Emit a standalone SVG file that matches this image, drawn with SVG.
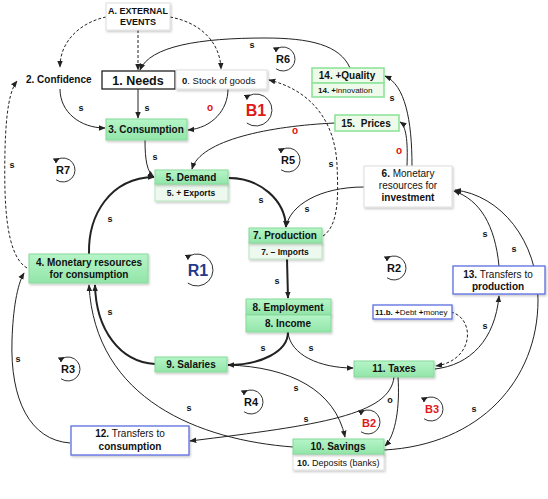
<svg xmlns="http://www.w3.org/2000/svg" width="548" height="499" viewBox="0 0 548 499">
<defs>
<linearGradient id="gg" x1="0" y1="0" x2="0" y2="1">
<stop offset="0" stop-color="#b6f5c8"/>
<stop offset="1" stop-color="#92e5a9"/>
</linearGradient>
<filter id="sh" x="-10%" y="-20%" width="130%" height="160%">
<feDropShadow dx="1" dy="1.5" stdDeviation="0.8" flood-color="#000" flood-opacity="0.22"/>
</filter>
<marker id="ah" viewBox="0 0 10 10" refX="9" refY="5" markerWidth="7" markerHeight="7" markerUnits="userSpaceOnUse" orient="auto">
<path d="M0,1 L10,5 L0,9 z" fill="#222"/>
</marker>
<marker id="la" viewBox="0 0 10 10" refX="5" refY="5" markerWidth="6" markerHeight="6" markerUnits="userSpaceOnUse" orient="auto">
<path d="M0,0 L10,5 L0,10 z" fill="#222"/>
</marker>
<style>
text { font-family: "Liberation Sans", Arial, sans-serif; fill: #111; }
.bd { font-weight: bold; }
.nt { font-size: 10px; font-weight: bold; text-anchor: middle; }
.sm { font-size: 8.5px; font-weight: bold; text-anchor: middle; }
.g { fill: url(#gg); stroke: #86d99a; stroke-width: 1; filter: url(#sh); }
.pl { fill: #eefaea; stroke: #8fe49c; stroke-width: 1.6; }
.ps { fill: #edf8ee; stroke: #b8e6c0; stroke-width: 1; filter: url(#sh); }
.w { fill: #fff; stroke: #dedede; stroke-width: 1; filter: url(#sh); }
.bl { fill: #fff; stroke: #5b6ee0; stroke-width: 1.3; filter: url(#sh); }
.k { fill: #fff; stroke: #222; stroke-width: 1.3; }
.c { fill: none; stroke: #222; stroke-width: 1; marker-end: url(#ah); }
.t { stroke-width: 2; }
.d { stroke-dasharray: 3 2; }
.lp { fill: none; stroke: #333; stroke-width: 1; marker-start: url(#la); }
.lb { font-size: 11px; font-weight: bold; text-anchor: middle; }
.s { font-size: 9px; font-weight: bold; text-anchor: middle; }
.o { font-size: 10px; font-weight: bold; text-anchor: middle; fill: #e01010; }
</style>
</defs>
<rect width="548" height="499" fill="#fff"/>

<g id="connectors">
<path class="c d" d="M106,17 C82,22 60,40 60,67"/>
<path class="c d" d="M138,30 L138,70"/>
<path class="c d" d="M170,17 C198,22 220,40 221,69"/>
<path class="c" d="M60,89 C60,112 80,128 105,128"/>
<path class="c" d="M138,89 L138,118"/>
<path class="c" d="M228,89 C228,110 212,128 188,130"/>
<path class="c" d="M350,68 C340,45 310,38 265,38 C200,38 150,46 140,70"/>
<path class="c d" d="M323,236 C340,225 338,190 337,165 C335,120 310,90 269,80"/>
<path class="c" d="M335,123 C270,126 200,140 192,169"/>
<path class="c" d="M145,140 C145,160 147,172 154,177"/>
<path class="c t" d="M229,178 C260,178 285,200 286,227"/>
<path class="c" d="M364,187 C320,187 290,205 286,227"/>
<path class="c" d="M412,166 C412,120 405,85 385,76"/>
<path class="c" d="M407,166 C408,140 406,126 400,122"/>
<path class="c t" d="M287,259 L288,298"/>
<path class="c t" d="M288,332 C288,352 260,365 228,365"/>
<path class="c" d="M288,332 C290,355 320,368 353,368"/>
<path class="c t" d="M155,364 C120,362 96,330 95,285"/>
<path class="c t" d="M89,254 C88,215 110,178 154,177"/>
<path class="c" d="M293,447 C200,440 95,400 89,285"/>
<path class="c" d="M228,365 C290,367 335,390 345,437"/>
<path class="c" d="M394,377 C390,415 320,425 190,441"/>
<path class="c" d="M398,377 C400,405 396,435 385,446"/>
<path class="c" d="M435,369 C470,365 495,340 499,296"/>
<path class="c d" d="M451,312 C475,318 475,360 436,366"/>
<path class="c" d="M499,266 C495,225 480,200 454,191"/>
<path class="c" d="M384,450 C480,445 538,380 538,300 C538,240 500,195 455,190"/>
<path class="c d" d="M27,268 C5,255 4,200 5,150 C6,110 10,90 17,81"/>
<path class="c" d="M70,443 C30,440 10,400 12,340 C13,310 17,285 24,273"/>

<text class="s" x="81" y="111">s</text>
<text class="s" x="147" y="111">s</text>
<text class="o" x="210" y="111">o</text>
<text class="s" x="252" y="48">s</text>
<text class="o" x="295" y="134">o</text>
<text class="s" x="155" y="160">s</text>
<text class="s" x="12" y="168">s</text>
<text class="s" x="331" y="167">s</text>
<text class="s" x="392" y="101">s</text>
<text class="o" x="399" y="154">o</text>
<text class="s" x="261" y="203">s</text>
<text class="s" x="307" y="212">s</text>
<text class="s" x="110" y="222">s</text>
<text class="s" x="485" y="237">s</text>
<text class="s" x="514" y="252">s</text>
<text class="s" x="277" y="284">s</text>
<text class="s" x="110" y="315">s</text>
<text class="s" x="485" y="329">s</text>
<text class="s" x="263" y="351">s</text>
<text class="s" x="311" y="351">s</text>
<text class="s" x="18" y="362">s</text>
<text class="s" x="296" y="391">s</text>
<text class="s" x="390" y="403">o</text>
<text class="s" x="189" y="411">s</text>
<text class="s" x="474" y="412">s</text>
<text class="s" x="306" y="422">s</text>
</g>

<g id="loops">
<path class="lp" d="M277,48.6 A12,12 0 1 1 276.1,68.8"/>
<text class="lb" x="283" y="63">R6</text>
<path class="lp" d="M248,96.1 A16,16 0 1 1 246.8,123.1" stroke="#553333"/>
<text class="lb" x="256" y="116" style="font-size:16px; fill:#e01818">B1</text>
<path class="lp" d="M282,149.6 A12,12 0 1 1 281.1,169.8"/>
<text class="lb" x="288" y="164">R5</text>
<path class="lp" d="M57,159.6 A12,12 0 1 1 56.1,179.8"/>
<text class="lb" x="63" y="174">R7</text>
<path class="lp" d="M189,256.1 A16,16 0 1 1 187.8,283.1" stroke="#334"/>
<text class="lb" x="198" y="276" style="font-size:16px; fill:#1f3a8a">R1</text>
<path class="lp" d="M388,257.6 A12,12 0 1 1 387.1,277.8"/>
<text class="lb" x="394" y="272">R2</text>
<path class="lp" d="M62,358.6 A12,12 0 1 1 61.1,378.8"/>
<text class="lb" x="68" y="373">R3</text>
<path class="lp" d="M245,391.6 A12,12 0 1 1 244.1,411.8"/>
<text class="lb" x="251" y="406">R4</text>
<path class="lp" d="M362,411.6 A12,12 0 1 1 361.1,431.8"/>
<text class="lb" x="369" y="427" style="fill:#e01818">B2</text>
<path class="lp" d="M425,398.6 A12,12 0 1 1 424.1,418.8"/>
<text class="lb" x="432" y="413" style="fill:#e01818">B3</text>
</g>

<g id="nA">
<rect class="w" x="106" y="3" width="64" height="27"/>
<text class="nt" x="138" y="13.5" style="font-size:9px">A. EXTERNAL</text>
<text class="nt" x="138" y="24.5" style="font-size:9px">EVENTS</text>
</g>
<g id="n1">
<rect class="k" x="102" y="71" width="73" height="18"/>
<text class="nt" x="138" y="84.5" style="font-size:12.5px">1. Needs</text>
</g>
<g id="n0">
<rect class="w" x="176" y="70" width="91" height="19"/>
<text x="182" y="83.5" style="font-size:9.5px"><tspan class="bd">0</tspan>. Stock of goods</text>
</g>
<g id="n2">
<text class="bd" x="26" y="83" style="font-size:10px">2. Confidence</text>
</g>
<g id="n3">
<rect class="g" x="106" y="119" width="81" height="21"/>
<text class="nt" x="146" y="133">3. Consumption</text>
</g>
<g id="n14">
<rect class="pl" x="312" y="68" width="72" height="15"/>
<rect class="pl" x="312" y="83" width="72" height="14"/>
<text class="nt" x="347" y="79">14. +Quality</text>
<text x="318" y="93" style="font-size:8px"><tspan class="bd">14. +</tspan>innovation</text>
</g>
<g id="n15">
<rect class="pl" x="335" y="115" width="64" height="16"/>
<text class="nt" x="366" y="126.5" xml:space="preserve">15.  Prices</text>
</g>
<g id="n5">
<rect class="ps" x="155" y="184" width="73" height="17"/>
<rect class="g" x="155" y="170" width="73" height="14"/>
<text class="nt" x="191" y="181">5. Demand</text>
<text class="sm" x="191" y="196">5. + Exports</text>
</g>
<g id="n6">
<rect class="w" x="364" y="166" width="88" height="41"/>
<text x="408" y="177" style="font-size:10px; text-anchor:middle"><tspan class="bd">6.</tspan> Monetary</text>
<text x="408" y="189" style="font-size:10px; text-anchor:middle">resources for</text>
<text class="nt" x="408" y="201">investment</text>
</g>
<g id="n7">
<rect class="ps" x="249" y="243" width="73" height="16"/>
<rect class="g" x="249" y="228" width="73" height="15"/>
<text class="nt" x="285" y="239">7. Production</text>
<text class="sm" x="285" y="254.5">7. – Imports</text>
</g>
<g id="n4">
<rect class="g" x="29" y="254" width="119" height="29"/>
<text class="nt" x="89" y="266">4. Monetary resources</text>
<text class="nt" x="89" y="278">for consumption</text>
</g>
<g id="n13">
<rect class="bl" x="453" y="266" width="92" height="28"/>
<text x="498" y="277.5" style="font-size:10px; text-anchor:middle"><tspan class="bd">13.</tspan> Transfers to</text>
<text class="nt" x="498" y="290">production</text>
</g>
<g id="n11b">
<rect class="bl" x="373" y="305" width="79" height="14"/>
<text x="375" y="315" style="font-size:8px"><tspan class="bd">11.b. +</tspan>Debt <tspan class="bd">+</tspan>money</text>
</g>
<g id="n8">
<rect class="g" x="246" y="299" width="85" height="16"/>
<rect class="g" x="246" y="315" width="85" height="17"/>
<text class="nt" x="288" y="310.5">8. Employment</text>
<text class="nt" x="288" y="327">8. Income</text>
</g>
<g id="n9">
<rect class="g" x="155" y="357" width="72" height="15"/>
<text class="nt" x="191" y="368">9. Salaries</text>
</g>
<g id="n11">
<rect class="g" x="354" y="361" width="80" height="16"/>
<text class="nt" x="394" y="372">11. Taxes</text>
</g>
<g id="n12">
<rect class="bl" x="71" y="426" width="118" height="29"/>
<text x="130" y="437" style="font-size:10px; text-anchor:middle"><tspan class="bd">12.</tspan> Transfers to</text>
<text class="nt" x="130" y="449.5">consumption</text>
</g>
<g id="n10">
<rect class="w" x="293" y="454" width="91" height="16"/>
<rect class="g" x="293" y="439" width="91" height="15"/>
<text class="nt" x="338" y="450">10. Savings</text>
<text x="297" y="465.5" style="font-size:9px"><tspan class="bd">10.</tspan> Deposits (banks)</text>
</g>
</svg>
